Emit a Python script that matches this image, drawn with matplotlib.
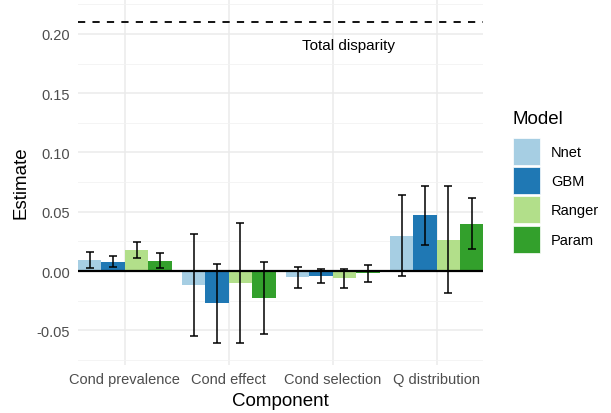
import numpy as np
import matplotlib.pyplot as plt
from matplotlib.patches import Patch

plt.rcParams['font.family'] = ['Liberation Sans', 'DejaVu Sans']

components = ['Cond prevalence', 'Cond effect', 'Cond selection', 'Q distribution']
models = ['Nnet', 'GBM', 'Ranger', 'Param']
colors = ['#A6CEE3', '#1F78B4', '#B2DF8A', '#33A02C']

# estimates per model, one value per component
est_nnet = [0.0095, -0.0115, -0.0053, 0.0295]
est_gbm = [0.0073, -0.0273, -0.0040, 0.0470]
est_ranger = [0.0177, -0.0101, -0.0059, 0.0261]
est_param = [0.0084, -0.0228, -0.0020, 0.0396]

low_nnet = [0.0028, -0.0548, -0.0143, -0.0042]
low_gbm = [0.0030, -0.0610, -0.0101, 0.0219]
low_ranger = [0.0112, -0.0610, -0.0141, -0.0188]
low_param = [0.0028, -0.0534, -0.0090, 0.0183]

high_nnet = [0.0163, 0.0315, 0.0037, 0.0638]
high_gbm = [0.0130, 0.0062, 0.0017, 0.0719]
high_ranger = [0.0245, 0.0405, 0.0017, 0.0714]
high_param = [0.0152, 0.0073, 0.0053, 0.0616]

total_disparity = 0.21

estimates = [est_nnet, est_gbm, est_ranger, est_param]
lows = [low_nnet, low_gbm, low_ranger, low_param]
highs = [high_nnet, high_gbm, high_ranger, high_param]

fig = plt.figure(figsize=(6.11, 4.14), dpi=100)
ax = fig.add_axes([0.1277, 0.1159, 0.6628, 0.8841])

x = np.arange(len(components))
w = 0.9 / len(models)
for i, m in enumerate(models):
    pos = x - 0.45 + w * (i + 0.5)
    est = np.array(estimates[i])
    ax.bar(pos, est, width=w, color=colors[i], zorder=2)
    ax.errorbar(pos, est, yerr=[est - np.array(lows[i]), np.array(highs[i]) - est],
                fmt='none', ecolor='black', elinewidth=1.1, capsize=2.8,
                capthick=1.1, zorder=3)

ax.axhline(0, color='black', lw=1.6, zorder=4)
ax.axhline(total_disparity, color='black', lw=1.3, ls=(0, (4, 4)), zorder=4)
ax.text(2.15, 0.1905, 'Total disparity', ha='center', va='center', fontsize=11)

ax.set_xlim(-0.45, 3.445)
ax.set_ylim(-0.0793, 0.2295)
ax.set_xticks(x)
ax.set_xticklabels(components)
ax.set_yticks([-0.05, 0.0, 0.05, 0.10, 0.15, 0.20])
ax.set_yticklabels(['-0.05', '0.00', '0.05', '0.10', '0.15', '0.20'])
ax.set_yticks([-0.075, -0.025, 0.025, 0.075, 0.125, 0.175, 0.225], minor=True)
ax.grid(True, which='major', color='#EBEBEB', lw=1.1, zorder=0)
ax.grid(True, which='minor', axis='y', color='#F2F2F2', lw=0.6, zorder=0)
ax.set_axisbelow(True)
for s in ax.spines.values():
    s.set_visible(False)
ax.tick_params(which='both', length=0, labelsize=10.5, labelcolor='#4D4D4D')
ax.tick_params(axis='x', pad=5)
ax.set_xlabel('Component', fontsize=13.5, labelpad=4)
ax.tick_params(axis='y', pad=6)
ax.set_ylabel('Estimate', fontsize=13.5, labelpad=5)

handles = [Patch(facecolor=c, edgecolor='white', lw=0.5) for c in colors]
leg = fig.legend(handles, models, title='Model', loc='upper left',
                 bbox_to_anchor=(0.8396, 0.732), frameon=False, fontsize=10.5,
                 title_fontsize=13.5, handlelength=1.85, handleheight=2.47,
                 handletextpad=0.75, labelspacing=0.15, borderpad=0,
                 borderaxespad=0)
leg._legend_box.align = 'left'
leg._legend_box.sep = 8

fig.savefig('out.png', dpi=100)
